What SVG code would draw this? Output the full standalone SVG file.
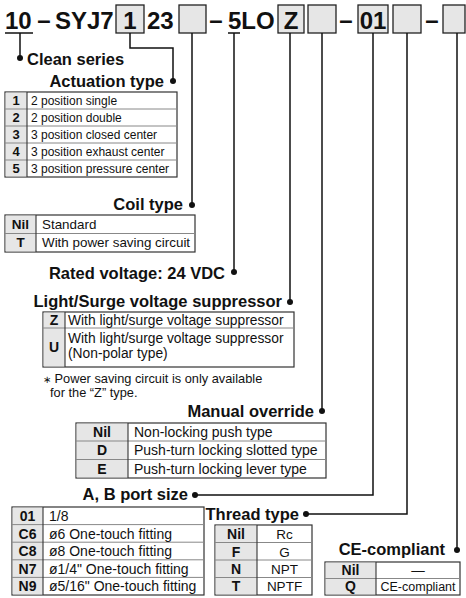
<svg xmlns="http://www.w3.org/2000/svg" width="466" height="598" viewBox="0 0 466 598">
<style>
.hd{font-family:"Liberation Sans",Arial,sans-serif;font-weight:bold;font-size:24px;fill:#111}
.h{font-family:"Liberation Sans",Arial,sans-serif;font-weight:bold;font-size:16.5px;fill:#111}
.c{font-family:"Liberation Sans",Arial,sans-serif;font-weight:bold;fill:#111;text-anchor:middle}
.d{font-family:"Liberation Sans",Arial,sans-serif;fill:#111}
.box{fill:#e6e6e6;stroke:#222;stroke-width:1.3}
.ln{fill:none;stroke:#111;stroke-width:1.5}
.tb{fill:#fff;stroke:#333;stroke-width:1.2}
.cc{fill:#e6e6e6;stroke:none}
.sep{stroke:#888;stroke-width:1}
.vs{stroke:#333;stroke-width:1.1}
.dot{fill:#111}
</style>

<g id="partnumber">
<text class="hd" x="5" y="29">10</text>
<line class="ln" x1="5" y1="33" x2="33" y2="33"/>
<text class="hd" x="44" y="28" text-anchor="middle">–</text>
<text class="hd" x="55" y="29">SYJ7</text>
<rect class="box" x="116" y="5" width="28" height="28"/>
<text class="hd" x="130" y="29" text-anchor="middle">1</text>
<text class="hd" x="147" y="29">23</text>
<rect class="box" x="179" y="5" width="27" height="28"/>
<text class="hd" x="216" y="28" text-anchor="middle">–</text>
<text class="hd" x="228" y="29">5LO</text>
<line class="ln" x1="228" y1="33" x2="240" y2="33"/>
<rect class="box" x="278" y="5" width="26" height="28"/>
<text class="hd" x="291" y="29" text-anchor="middle">Z</text>
<rect class="box" x="308" y="5" width="28" height="28"/>
<text class="hd" x="346" y="28" text-anchor="middle">–</text>
<rect class="box" x="358" y="5" width="30" height="28"/>
<text class="hd" x="373" y="29" text-anchor="middle">01</text>
<rect class="box" x="393" y="5" width="28" height="28"/>
<text class="hd" x="432" y="28" text-anchor="middle">–</text>
<rect class="box" x="443" y="5" width="22" height="28"/>
</g>

<g id="connectors">
<polyline class="ln" points="20,33 20,58"/>
<polyline class="ln" points="130,33 130,48 173,48 173,81"/>
<polyline class="ln" points="192,33 192,205"/>
<polyline class="ln" points="234,33 234,272"/>
<polyline class="ln" points="290,33 290,302"/>
<polyline class="ln" points="322,33 322,411"/>
<polyline class="ln" points="373,33 373,495 195,495"/>
<polyline class="ln" points="407,33 407,514 306,514"/>
<polyline class="ln" points="457,33 457,550"/>
<circle class="dot" cx="20" cy="58" r="3"/>
<circle class="dot" cx="173" cy="81" r="3"/>
<circle class="dot" cx="192" cy="205" r="3"/>
<circle class="dot" cx="234" cy="272" r="3"/>
<circle class="dot" cx="290" cy="302" r="3"/>
<circle class="dot" cx="322" cy="411" r="3"/>
<circle class="dot" cx="195" cy="495" r="3"/>
<circle class="dot" cx="306" cy="514" r="3"/>
<circle class="dot" cx="457" cy="550" r="3"/>
</g>

<g id="clean-series">
<text class="h" x="27" y="65">Clean series</text>
</g>

<g id="actuation-type">
<text class="h" x="164" y="87" text-anchor="end">Actuation type</text>
<rect class="tb" x="5" y="92" width="172" height="85"/>
<rect class="cc" x="5.6" y="92.6" width="21.4" height="83.8"/>
<line class="sep" x1="5" y1="109" x2="177" y2="109"/>
<line class="sep" x1="5" y1="126" x2="177" y2="126"/>
<line class="sep" x1="5" y1="143" x2="177" y2="143"/>
<line class="sep" x1="5" y1="160" x2="177" y2="160"/>
<line class="vs" x1="27" y1="92" x2="27" y2="177"/>
<g font-size="13">
<text class="c" x="16" y="105">1</text>
<text class="c" x="16" y="122">2</text>
<text class="c" x="16" y="139">3</text>
<text class="c" x="16" y="156">4</text>
<text class="c" x="16" y="173">5</text>
</g>
<g class="d" font-size="12">
<text x="31" y="105">2 position single</text>
<text x="31" y="122">2 position double</text>
<text x="31" y="139">3 position closed center</text>
<text x="31" y="156">3 position exhaust center</text>
<text x="31" y="173">3 position pressure center</text>
</g>
</g>

<g id="coil-type">
<text class="h" x="183" y="210" text-anchor="end">Coil type</text>
<rect class="tb" x="5" y="215" width="190" height="37"/>
<rect class="cc" x="5.6" y="215.6" width="30.4" height="35.8"/>
<line class="sep" x1="5" y1="233.5" x2="195" y2="233.5"/>
<line class="vs" x1="36" y1="215" x2="36" y2="252"/>
<g font-size="13.5">
<text class="c" x="20.5" y="229">Nil</text>
<text class="c" x="20.5" y="247">T</text>
</g>
<g class="d" font-size="13.4">
<text x="42" y="229">Standard</text>
<text x="42" y="247">With power saving circuit</text>
</g>
</g>

<g id="rated-voltage">
<text class="h" x="225" y="279" text-anchor="end">Rated voltage: 24 VDC</text>
</g>

<g id="light-surge">
<text class="h" x="282" y="307" text-anchor="end">Light/Surge voltage suppressor</text>
<rect class="tb" x="43" y="312" width="251" height="55"/>
<rect class="cc" x="43.6" y="312.6" width="21.4" height="53.8"/>
<line class="sep" x1="43" y1="328" x2="294" y2="328"/>
<line class="vs" x1="65" y1="312" x2="65" y2="367"/>
<g font-size="14">
<text class="c" x="54" y="325">Z</text>
<text class="c" x="54" y="352">U</text>
</g>
<g class="d" font-size="13.8">
<text x="68" y="325">With light/surge voltage suppressor</text>
<text x="68" y="343">With light/surge voltage suppressor</text>
<text x="68" y="358">(Non-polar type)</text>
</g>
<g class="d" font-size="12.8">
<text x="43" y="383"><tspan font-size="10">∗</tspan> Power saving circuit is only available</text>
<text x="50" y="397">for the “Z” type.</text>
</g>
</g>

<g id="manual-override">
<text class="h" x="314" y="417" text-anchor="end">Manual override</text>
<rect class="tb" x="76" y="423" width="250" height="55"/>
<rect class="cc" x="76.6" y="423.6" width="51.4" height="53.8"/>
<line class="sep" x1="76" y1="441" x2="326" y2="441"/>
<line class="sep" x1="76" y1="459.5" x2="326" y2="459.5"/>
<line class="vs" x1="128" y1="423" x2="128" y2="478"/>
<g font-size="14">
<text class="c" x="102" y="437">Nil</text>
<text class="c" x="102" y="455">D</text>
<text class="c" x="102" y="474">E</text>
</g>
<g class="d" font-size="14">
<text x="134" y="437">Non-locking push type</text>
<text x="134" y="455">Push-turn locking slotted type</text>
<text x="134" y="474">Push-turn locking lever type</text>
</g>
</g>

<g id="ab-port-size">
<text class="h" x="188" y="500" text-anchor="end">A, B port size</text>
<rect class="tb" x="12" y="507" width="192" height="88"/>
<rect class="cc" x="12.6" y="507.6" width="30.4" height="86.8"/>
<line class="sep" x1="12" y1="524.6" x2="204" y2="524.6"/>
<line class="sep" x1="12" y1="542.2" x2="204" y2="542.2"/>
<line class="sep" x1="12" y1="559.8" x2="204" y2="559.8"/>
<line class="sep" x1="12" y1="577.4" x2="204" y2="577.4"/>
<line class="vs" x1="43" y1="507" x2="43" y2="595"/>
<g font-size="14">
<text class="c" x="27.5" y="521">01</text>
<text class="c" x="27.5" y="538.5">C6</text>
<text class="c" x="27.5" y="556">C8</text>
<text class="c" x="27.5" y="573.5">N7</text>
<text class="c" x="27.5" y="591">N9</text>
</g>
<g class="d" font-size="14">
<text x="49" y="521">1/8</text>
<text x="49" y="538.5">ø6 One-touch fitting</text>
<text x="49" y="556">ø8 One-touch fitting</text>
<text x="49" y="573.5">ø1/4" One-touch fitting</text>
<text x="49" y="591">ø5/16" One-touch fitting</text>
</g>
</g>

<g id="thread-type">
<text class="h" x="299" y="520" text-anchor="end">Thread type</text>
<rect class="tb" x="215" y="525" width="97" height="70"/>
<rect class="cc" x="215.6" y="525.6" width="41.4" height="68.8"/>
<line class="sep" x1="215" y1="542.5" x2="312" y2="542.5"/>
<line class="sep" x1="215" y1="560" x2="312" y2="560"/>
<line class="sep" x1="215" y1="577.5" x2="312" y2="577.5"/>
<line class="vs" x1="257" y1="525" x2="257" y2="595"/>
<g font-size="14">
<text class="c" x="236" y="539">Nil</text>
<text class="c" x="236" y="556.5">F</text>
<text class="c" x="236" y="574">N</text>
<text class="c" x="236" y="591">T</text>
</g>
<g class="d" font-size="13.5" text-anchor="middle">
<text x="284.5" y="539">Rc</text>
<text x="284.5" y="556.5">G</text>
<text x="284.5" y="574">NPT</text>
<text x="284.5" y="591">NPTF</text>
</g>
</g>

<g id="ce-compliant">
<text class="h" x="445" y="555" text-anchor="end">CE-compliant</text>
<rect class="tb" x="325" y="562" width="135" height="33"/>
<rect class="cc" x="325.6" y="562.6" width="50.4" height="31.8"/>
<line class="sep" x1="325" y1="578.5" x2="460" y2="578.5"/>
<line class="vs" x1="376" y1="562" x2="376" y2="595"/>
<g font-size="14">
<text class="c" x="350.5" y="575">Nil</text>
<text class="c" x="350.5" y="591">Q</text>
</g>
<g class="d" text-anchor="middle">
<text x="418" y="575" font-size="13.5">—</text>
<text x="418" y="591" font-size="12.5">CE-compliant</text>
</g>
</g>
</svg>
